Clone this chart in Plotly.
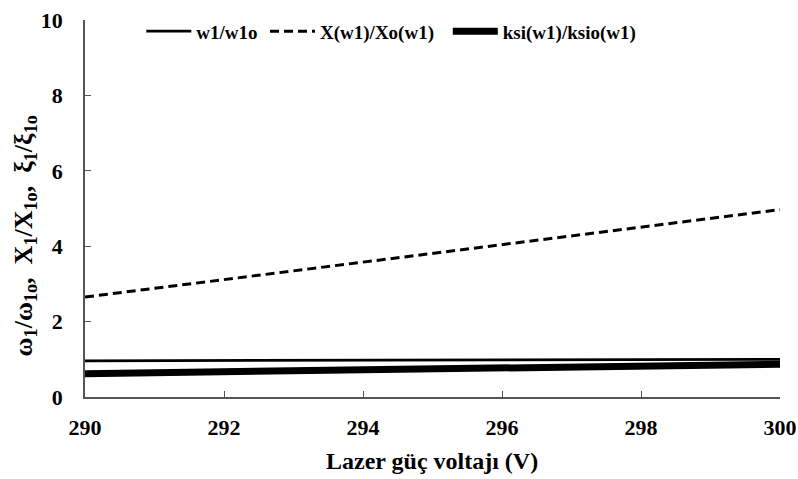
import plotly.graph_objects as go

voltage = [290, 292, 294, 296, 298, 300]
w_ratio = [0.96, 0.97, 0.98, 0.985, 0.99, 1.0]
x_ratio = [2.65, 3.11, 3.58, 4.04, 4.50, 4.97]
ksi_ratio = [0.62, 0.67, 0.72, 0.77, 0.82, 0.87]

FONT = "Liberation Serif"

fig = go.Figure()
fig.add_trace(go.Scatter(x=voltage, y=w_ratio, mode="lines", name="<b>w1/w1o</b>",
                         line=dict(color="black", width=2.8), legend="legend", showlegend=True))
fig.add_trace(go.Scatter(x=voltage, y=x_ratio, mode="lines", name="<b>X(w1)/Xo(w1)</b>",
                         line=dict(color="black", width=3, dash="9px,5px"), legend="legend2", showlegend=True))
fig.add_trace(go.Scatter(x=voltage, y=ksi_ratio, mode="lines", name="<b>ksi(w1)/ksio(w1)</b>",
                         line=dict(color="black", width=7), legend="legend3", showlegend=True))

leg_common = dict(bgcolor="rgba(0,0,0,0)", font=dict(family=FONT, size=19, color="black"),
                  yanchor="middle", xanchor="left", y=0.97, itemwidth=45)

fig.update_layout(
    width=798, height=479,
    showlegend=True,
    margin=dict(l=85, r=18, t=12, b=82),
    paper_bgcolor="white", plot_bgcolor="white",
    font=dict(family=FONT, color="black"),
    legend=dict(x=0.081, **leg_common),
    legend2=dict(x=0.259, **leg_common),
    legend3=dict(x=0.522, **leg_common),
    xaxis=dict(range=[290, 300], dtick=2, tick0=290, showline=True, linecolor="#555", linewidth=1.5,
               ticks="inside", ticklen=6, tickcolor="#555", showgrid=False, zeroline=False, automargin=False,
               ticklabelstandoff=10,
               tickfont=dict(family=FONT, size=22, color="black"), tickprefix="<b>", ticksuffix="</b>"),
    yaxis=dict(range=[0, 10], dtick=2, showline=True, linecolor="#555", linewidth=1.5,
               ticks="inside", ticklen=6, tickcolor="#555", showgrid=False, zeroline=False, automargin=False,
               ticklabelstandoff=16,
               tickfont=dict(family=FONT, size=22, color="black"), tickprefix="<b>", ticksuffix="</b>"),
    annotations=[
        dict(text="<b>Lazer güç voltajı (V)</b>", xref="paper", yref="paper", x=0.499, y=-0.169,
             xanchor="center", yanchor="middle", showarrow=False, font=dict(family=FONT, size=24)),
        dict(text="<b>ω<sub>1</sub>/ω<sub>1o</sub>,  X<sub>1</sub>/X<sub>1o</sub>,  ξ<sub>1</sub>/ξ<sub>1o</sub></b>",
             xref="paper", yref="paper", x=-0.0863, y=0.426, textangle=-90,
             xanchor="center", yanchor="middle", showarrow=False, font=dict(family=FONT, size=26)),
    ],
)

fig.write_html("out.html", config={"displayModeBar": False},
               post_script="document.body.style.margin='0px';document.body.style.overflow='hidden';")
